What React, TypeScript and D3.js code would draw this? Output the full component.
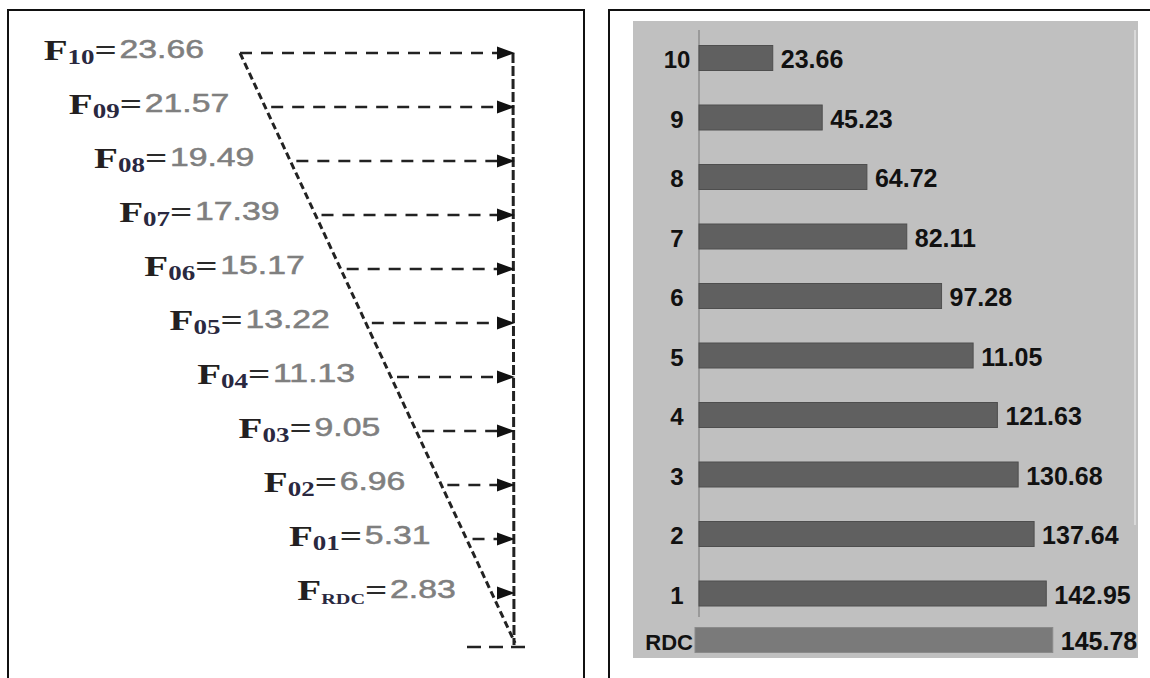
import React from "react";
import * as d3 from "d3";

// ---- Left diagram data (storey forces) ----
const forceSubs = ["10", "09", "08", "07", "06", "05", "04", "03", "02", "01", "RDC"];
const forceValues = [23.66, 21.57, 19.49, 17.39, 15.17, 13.22, 11.13, 9.05, 6.96, 5.31, 2.83];

// ---- Right bar chart data (storey shear) ----
const barCats = ["10", "9", "8", "7", "6", "5", "4", "3", "2", "1", "RDC"];
const barValues = [23.66, 45.23, 64.72, 82.11, 97.28, 111.05, 121.63, 130.68, 137.64, 142.95, 145.78];
const barLabels = ["23.66", "45.23", "64.72", "82.11", "97.28", "11.05", "121.63", "130.68", "137.64", "142.95", "145.78"];

const SERIF = "'Liberation Serif', 'Times New Roman', serif";
const SANS = "'Liberation Sans', Arial, sans-serif";

function ArrowHead({ x, y }: { x: number; y: number }) {
  return <path d={`M${x - 18},${y - 6.5}L${x},${y}L${x - 18},${y + 6.5}Z`} fill="#111" />;
}

function LeftPanel() {
  const vx = 513; // vertical resultant line
  const y = d3.scalePoint<string>().domain(forceSubs).range([53, 593]);
  // diagonal triangle edge: x as a function of height
  const diag = d3.scaleLinear().domain([53, 643]).range([240, 515]);
  return (
    <g>
      {/* frame */}
      <path d="M8,678V10H584V678" fill="none" stroke="#111" strokeWidth={2} />
      {/* diagonal */}
      <line x1={diag(53)} y1={53} x2={diag(643)} y2={643} stroke="#222" strokeWidth={3} strokeDasharray="7,4" />
      {/* vertical */}
      <line x1={vx} y1={53} x2={vx + 1} y2={645} stroke="#222" strokeWidth={3} strokeDasharray="10,3" />
      {/* bottom base */}
      <line x1={467} y1={647} x2={527} y2={647} stroke="#222" strokeWidth={2.5} strokeDasharray="14,8" />
      {forceSubs.map((s, i) => {
        const yy = y(s)!;
        const x0 = i === 0 ? diag(yy) : diag(yy) + 6;
        const x1 = vx - 16;
        return (
          <g key={s}>
            {x1 > x0 && (
              <line x1={x0} y1={yy} x2={x1} y2={yy} stroke="#222" strokeWidth={2.5} strokeDasharray="12,9" />
            )}
            <ArrowHead x={vx + 2} y={yy} />
            <text
              textAnchor="end"
              transform={`translate(${diag(yy) - 36},${yy + 7}) scale(1.35,1)`}
            >
              <tspan fontFamily={SERIF} fontWeight="bold" fontSize={29} fill="#231f20">F</tspan>
              <tspan fontFamily={SERIF} fontWeight="bold" fontSize={s === "RDC" ? 15 : 20} fill="#2a2840" dy={4}>{s}</tspan>
              <tspan fontFamily={SERIF} fontWeight="bold" fontSize={29} fill="#2a2a2a" dy={-4}>=</tspan>
              <tspan fontFamily={SANS} fontSize={25} fill="#7f7f7f" stroke="#7f7f7f" strokeWidth={0.5} dy={-2} dx={2}>{forceValues[i].toFixed(2)}</tspan>
            </text>
          </g>
        );
      })}
    </g>
  );
}

function RightPanel() {
  const axisX = 699;
  const main = barCats.filter((c) => c !== "RDC");
  const yp = d3.scalePoint<string>().domain(main).range([58, 593.5]);
  const yOf = (c: string) => (c === "RDC" ? yp("1")! + 46.5 : yp(c)!);
  const x = d3.scaleLinear().domain([-8.5, 150]).range([axisX, axisX + 158.5 * 2.293]);
  const bh = 25;
  return (
    <g>
      <path d="M609,678V10H1150" fill="none" stroke="#111" strokeWidth={2} />
      <rect x={633} y={21} width={505} height={637} fill="#c0c0c0" />
      <line x1={1135} y1={30} x2={1135} y2={525} stroke="#e2e2e2" strokeWidth={1.5} />
      <line x1={axisX} y1={30} x2={axisX} y2={617} stroke="#9a9a9a" strokeWidth={2} />
      {barCats.map((c, i) => {
        const cy = yOf(c);
        const isR = c === "RDC";
        const x0 = isR ? axisX - 4 : axisX;
        return (
          <g key={c}>
            <rect
              x={x0}
              y={cy - bh / 2}
              width={x(barValues[i]) - x0}
              height={bh}
              fill={isR ? "#7a7a7a" : "#606060"}
              stroke={isR ? "#8a8a8a" : "#4e4e4e"}
              strokeWidth={1}
            />
            <text
              x={x(barValues[i]) + 8}
              y={cy + 10}
              fontFamily={SANS}
              fontWeight="bold"
              fontSize={25}
              fill="#111"
            >
              {barLabels[i]}
            </text>
            <text
              x={isR ? axisX - 6 : axisX - 22}
              y={cy + 10}
              textAnchor={isR ? "end" : "middle"}
              fontFamily={SANS}
              fontWeight="bold"
              fontSize={isR ? 22 : 24}
              fill="#111"
            >
              {c}
            </text>
          </g>
        );
      })}
    </g>
  );
}

export default function App() {
  return (
    <svg
      width={1150}
      height={678}
      viewBox="0 0 1150 678"
      style={{ position: "absolute", left: 0, top: 0, background: "#fff" }}
    >
      <rect width={1150} height={678} fill="#fff" />
      <LeftPanel />
      <RightPanel />
    </svg>
  );
}
